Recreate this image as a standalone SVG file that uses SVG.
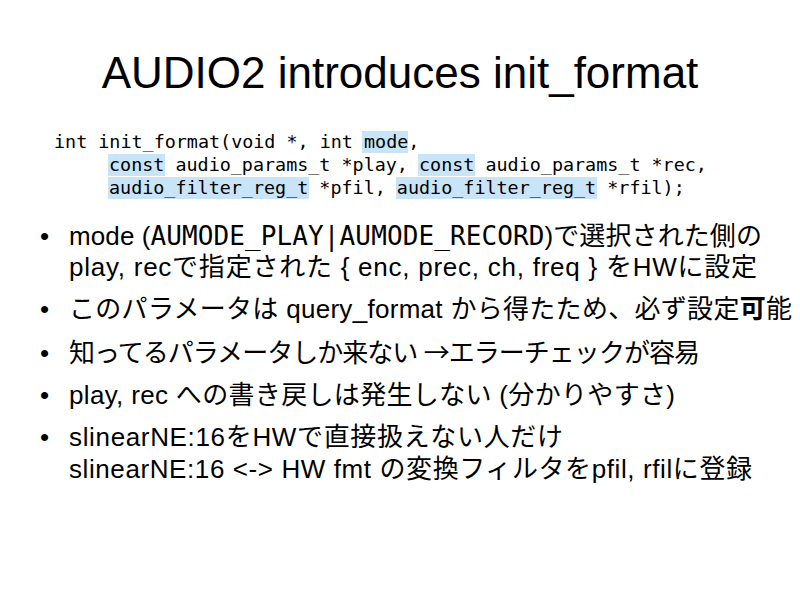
<svg xmlns="http://www.w3.org/2000/svg" width="800" height="600" viewBox="0 0 800 600">
<style>
.title{font-family:"Liberation Sans","Noto Sans CJK JP",sans-serif;font-size:44px;fill:#000}
.code{font-family:"DejaVu Sans Mono","Liberation Mono",monospace;font-size:18.4px;fill:#000;white-space:pre}
.hl{fill:#c8e4f8}
.b{font-family:"Liberation Sans","Noto Sans CJK JP",sans-serif;font-size:26px;fill:#000}
.m{font-family:"DejaVu Sans Mono","Liberation Mono",monospace}
.j{font-family:"Noto Sans CJK JP",sans-serif}
.dot{font-family:"Liberation Sans",sans-serif;font-size:26px;fill:#000}
</style>
<rect width="800" height="600" fill="#fff"/>
<text class="title" x="400" y="88" text-anchor="middle">AUDIO2 introduces init_format</text>
<g id="code">
<rect class="hl" x="362" y="131" width="46" height="22"/>
<rect class="hl" x="108" y="154" width="57" height="22"/>
<rect class="hl" x="418" y="154" width="57" height="22"/>
<rect class="hl" x="108" y="177" width="201" height="22"/>
<rect class="hl" x="396" y="177" width="201" height="22"/>
<text class="code" x="54" y="148" xml:space="preserve">int init_format(void *, int mode,</text>
<text class="code" x="109" y="171" xml:space="preserve">const audio_params_t *play, const audio_params_t *rec,</text>
<text class="code" x="109" y="194" xml:space="preserve">audio_filter_reg_t *pfil, audio_filter_reg_t *rfil);</text>
</g>
<g id="bullets">
<text class="dot" x="40" y="245">•</text>
<text class="b" x="69" y="245" textLength="693" lengthAdjust="spacing">mode (<tspan class="m">AUMODE_PLAY|AUMODE_RECORD</tspan>)で選択された側の</text>
<text class="b" x="69" y="276" textLength="688" lengthAdjust="spacing">play, recで指定された { enc, prec, ch, freq } をHWに設定</text>
<text class="dot" x="40" y="318">•</text>
<text class="b" x="69" y="318" textLength="723" lengthAdjust="spacing">このパラメータは query_format から得たため、必ず設定<tspan font-weight="bold">可</tspan>能</text>
<text class="dot" x="40" y="362">•</text>
<text class="b" x="69" y="362" textLength="631" lengthAdjust="spacing">知ってるパラメータしか来ない <tspan class="j">→</tspan>エラーチェックが容易</text>
<text class="dot" x="40" y="404">•</text>
<text class="b" x="69" y="404" textLength="606" lengthAdjust="spacing">play, rec への書き戻しは発生しない (分かりやすさ)</text>
<text class="dot" x="40" y="446">•</text>
<text class="b" x="69" y="446" textLength="494" lengthAdjust="spacing">slinearNE:16をHWで直接扱えない人だけ</text>
<text class="b" x="69" y="478" textLength="683" lengthAdjust="spacing">slinearNE:16 &lt;-&gt; HW fmt の変換フィルタをpfil, rfilに登録</text>
</g>
</svg>
